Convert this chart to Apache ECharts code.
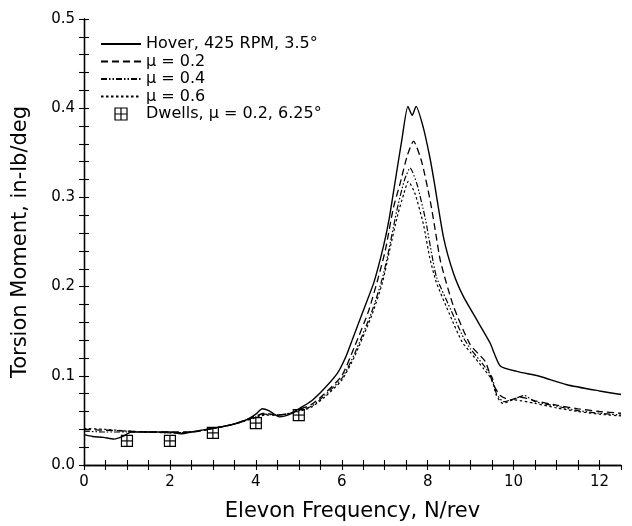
<!DOCTYPE html>
<html><head><meta charset="utf-8">
<script src="https://cdn.jsdelivr.net/npm/echarts@6/dist/echarts.min.js"></script>
<style>html,body{margin:0;padding:0;background:#fff}#c{width:632px;height:526px}</style>
</head><body><div id="c"></div>
<script>
const seriesNames = ['Hover, 425 RPM, 3.5°', 'μ = 0.2', 'μ = 0.4', 'μ = 0.6', 'Dwells, μ = 0.2, 6.25°'];
const hover = [[0,0.034],[0.2,0.032],[0.45,0.031],[0.7,0.029],[0.9,0.032],[1.1,0.037],[1.5,0.037],[2.0,0.037],[2.25,0.035],[2.6,0.038],[3.0,0.041],[3.5,0.046],[3.8,0.051],[4.0,0.057],[4.15,0.063],[4.3,0.061],[4.55,0.054],[4.8,0.057],[5.0,0.063],[5.3,0.072],[5.6,0.086],[5.9,0.103],[6.1,0.122],[6.25,0.141],[6.5,0.173],[6.75,0.205],[6.97,0.245],[7.1,0.275],[7.25,0.32],[7.4,0.365],[7.54,0.402],[7.64,0.392],[7.73,0.402],[7.9,0.378],[8.05,0.345],[8.15,0.318],[8.37,0.255],[8.6,0.215],[8.83,0.189],[9.14,0.163],[9.45,0.137],[9.69,0.111],[10.07,0.105],[10.6,0.0995],[11.24,0.090],[12.0,0.083],[12.5,0.079]];
const mu02 = [[0,0.040],[0.5,0.039],[1.0,0.038],[1.5,0.037],[2,0.037],[2.5,0.037],[3,0.041],[3.5,0.046],[4,0.055],[4.2,0.058],[4.5,0.056],[4.8,0.058],[5.0,0.062],[5.3,0.068],[5.6,0.080],[6.0,0.100],[6.3,0.133],[6.62,0.172],[6.85,0.21],[7.02,0.242],[7.2,0.288],[7.36,0.316],[7.52,0.346],[7.67,0.363],[7.86,0.34],[8.06,0.296],[8.17,0.265],[8.3,0.228],[8.6,0.178],[8.99,0.135],[9.34,0.116],[9.53,0.09],[9.69,0.078],[9.92,0.073],[10.15,0.076],[10.5,0.072],[11,0.067],[11.5,0.063],[12,0.060],[12.5,0.058]];
const mu04 = [[0,0.038],[0.5,0.037],[1,0.037],[1.5,0.037],[2,0.036],[2.5,0.037],[3,0.041],[3.5,0.046],[4,0.054],[4.2,0.057],[4.5,0.056],[4.8,0.058],[5,0.061],[5.3,0.066],[5.6,0.078],[6,0.097],[6.3,0.125],[6.7,0.172],[6.95,0.21],[7.1,0.242],[7.28,0.285],[7.45,0.318],[7.59,0.333],[7.75,0.315],[7.95,0.275],[8.1,0.235],[8.21,0.21],[8.52,0.176],[8.83,0.143],[9.0,0.13],[9.3,0.112],[9.5,0.098],[9.6,0.08],[9.77,0.071],[10,0.074],[10.25,0.078],[10.5,0.071],[11,0.066],[11.5,0.061],[12,0.058],[12.5,0.056]];
const mu06 = [[0,0.041],[0.5,0.040],[1,0.038],[1.5,0.037],[2,0.036],[2.5,0.037],[3,0.041],[3.5,0.046],[4,0.053],[4.2,0.056],[4.5,0.056],[4.8,0.058],[5,0.060],[5.3,0.065],[5.6,0.076],[6.0,0.095],[6.3,0.122],[6.7,0.168],[6.95,0.205],[7.12,0.242],[7.3,0.28],[7.45,0.305],[7.55,0.318],[7.7,0.305],[7.9,0.27],[8.05,0.232],[8.2,0.205],[8.5,0.17],[8.8,0.138],[9.0,0.126],[9.3,0.108],[9.5,0.095],[9.6,0.078],[9.75,0.069],[10,0.073],[10.5,0.069],[11,0.064],[11.5,0.06],[12,0.057],[12.5,0.055]];
const dwells = [[1,0.027],[2,0.027],[3,0.036],[4,0.047],[5,0.056]];

const FONT = 'DejaVu Sans';
const chart = echarts.init(document.getElementById('c'), null, {renderer:'canvas'});
const axisLineStyle = {color:'#000', width:1.3};
const tick = {show:true, inside:true, length:5, lineStyle:{color:'#000', width:1.1}};
const isMult = (v, m) => Math.abs(v/m - Math.round(v/m)) < 1e-6;
const squarePlus = 'path://M0,0L10,0L10,10L0,10Z M5,0L5,10 M0,5L10,5';

function lineSeries(name, data, type, width) {
  return {name, type:'line', data, symbol:'none', showSymbol:false, smooth:0.2, xAxisIndex:0, yAxisIndex:0,
    lineStyle:{color:'#000', width, type}, itemStyle:{color:'rgba(0,0,0,0)', borderColor:'rgba(0,0,0,0)', borderWidth:0}, animation:false, z:3};
}

chart.setOption({
  backgroundColor:'#fff',
  animation:false,
  grid:{left:84, right:11, top:19, bottom:61, containLabel:false, outerBoundsMode:'none'},
  xAxis:[
    {type:'value', min:0, max:12.5, interval:0.5, position:'bottom',
     name:'Elevon Frequency, N/rev', nameLocation:'middle', nameGap:36,
     nameTextStyle:{fontFamily:FONT, fontSize:21, color:'#000'},
     axisLine:{show:true, lineStyle:axisLineStyle}, axisTick:tick, splitLine:{show:false},
     axisLabel:{margin:10, fontFamily:FONT, fontSize:15, color:'#000', showMaxLabel:false,
       formatter:v => isMult(v,2) ? String(Math.round(v)) : ''}},
    {type:'value', min:0, max:12.5, interval:0.5, position:'top',
     axisLine:{show:true, lineStyle:axisLineStyle}, axisTick:tick, splitLine:{show:false}, axisLabel:{show:false}}
  ],
  yAxis:[
    {type:'value', min:0, max:0.5, interval:0.02, position:'left',
     name:'Torsion Moment, in-lb/deg', nameLocation:'middle', nameGap:53, nameRotate:90,
     nameTextStyle:{fontFamily:FONT, fontSize:21, color:'#000'},
     axisLine:{show:true, lineStyle:axisLineStyle}, axisTick:tick, splitLine:{show:false},
     axisLabel:{margin:9, fontFamily:FONT, fontSize:15, color:'#000',
       formatter:v => isMult(v,0.1) ? v.toFixed(1) : ''}},
    {type:'value', min:0, max:0.5, interval:0.02, position:'right',
     axisLine:{show:true, lineStyle:axisLineStyle}, axisTick:tick, splitLine:{show:false}, axisLabel:{show:false}}
  ],
  legend:{
    orient:'vertical', left:100, top:36, padding:0, itemWidth:40, itemHeight:12, itemGap:1.5,
    textStyle:{fontFamily:FONT, fontSize:16, color:'#000'},
    selectedMode:false,
    data:[
      {name:seriesNames[0]}, {name:seriesNames[1]}, {name:seriesNames[2]}, {name:seriesNames[3]},
      {name:seriesNames[4], icon:squarePlus, itemStyle:{color:'rgba(0,0,0,0)', borderColor:'#000', borderWidth:1.2}}
    ]
  },
  series:[
    lineSeries(seriesNames[0], hover, 'solid', 1.4),
    lineSeries(seriesNames[1], mu02, [7,4], 1.3),
    lineSeries(seriesNames[2], mu04, [6,2,1.5,2,1.5,2], 1.2),
    lineSeries(seriesNames[3], mu06, [2.5,2.5], 1.2),
    {name:seriesNames[4], type:'custom', data:dwells, xAxisIndex:0, yAxisIndex:0, z:4,
     itemStyle:{color:'rgba(0,0,0,0)', borderColor:'#000'},
     renderItem:(params, api) => {
       const p = api.coord([api.value(0), api.value(1)]);
       const h = 5.5;
       const st = {stroke:'#000', lineWidth:1.2, fill:null};
       return {type:'group', children:[
         {type:'rect', shape:{x:p[0]-h, y:p[1]-h, width:2*h, height:2*h}, style:{stroke:'#000', lineWidth:1.2, fill:'rgba(255,255,255,0)'}},
         {type:'line', shape:{x1:p[0], y1:p[1]-h, x2:p[0], y2:p[1]+h}, style:st},
         {type:'line', shape:{x1:p[0]-h, y1:p[1], x2:p[0]+h, y2:p[1]}, style:st}
       ]};
     }}
  ]
});
</script></body></html>
